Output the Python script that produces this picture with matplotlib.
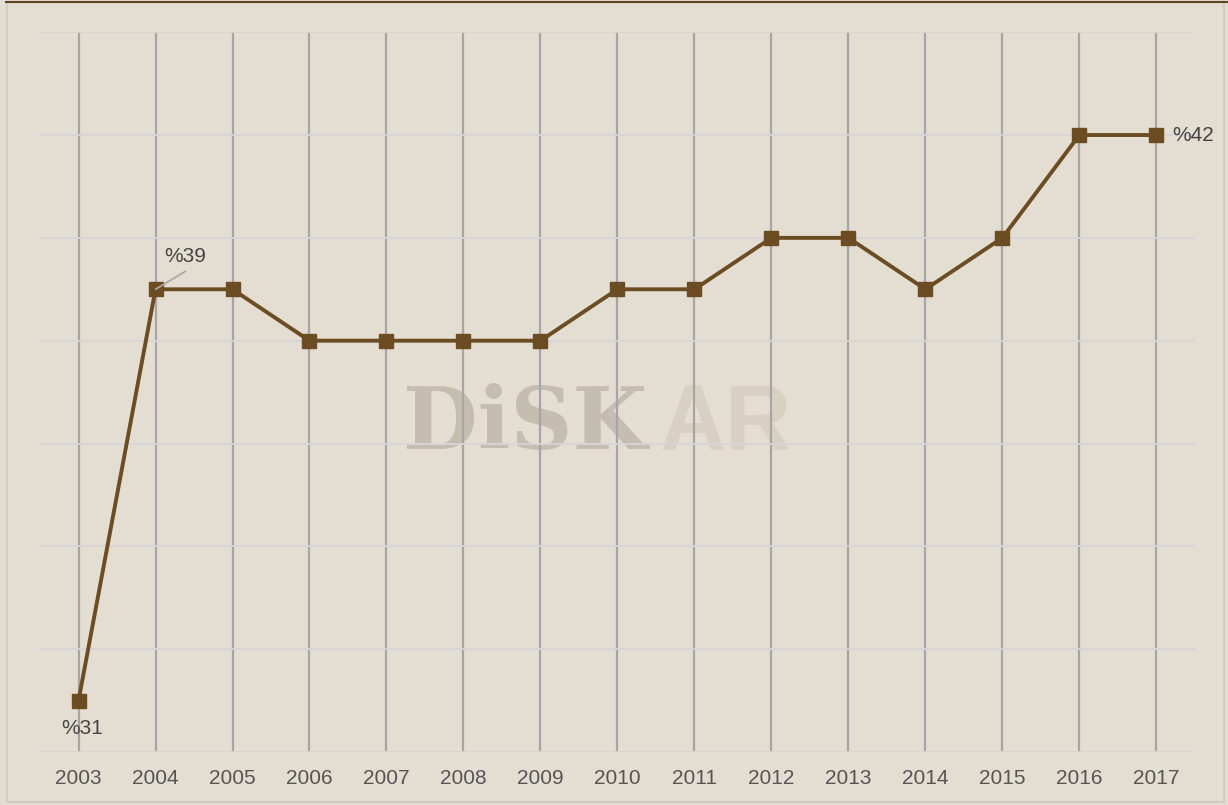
import matplotlib.pyplot as plt
from matplotlib.patches import Rectangle
from matplotlib.lines import Line2D

plt.rcParams['font.family'] = ['Liberation Sans', 'DejaVu Sans']

years = ['2003', '2004', '2005', '2006', '2007', '2008', '2009', '2010',
         '2011', '2012', '2013', '2014', '2015', '2016', '2017']
values = [31, 39, 39, 38, 38, 38, 38, 39, 39, 40, 40, 39, 40, 42, 42]

bg = '#e4ddd2'
line_col = '#6b4c23'
px = 0.72  # points per pixel at dpi 100

fig = plt.figure(figsize=(12.28, 8.05), dpi=100, facecolor=bg)

# frame and top rule
fig.add_artist(Rectangle((0.006, 0.004), 0.991, 0.994, transform=fig.transFigure,
                         fill=False, edgecolor='#d0ccc6', linewidth=1.5))
fig.add_artist(Line2D([0.005, 1.0], [0.998, 0.998], transform=fig.transFigure,
                      color='#5e4320', linewidth=1.5))

ax = fig.add_axes([0.0326, 0.0658, 0.9404, 0.8942])
ax.set_facecolor(bg)
x = list(range(len(years)))
ax.set_xlim(-0.5, len(years) - 0.5)
ax.set_ylim(30, 44)

for s in ax.spines.values():
    s.set_visible(False)

ax.set_yticks(range(30, 45, 2))
ax.set_yticklabels([])
ax.tick_params(axis='y', length=0)
ax.grid(axis='y', color='#d6d6d6', linewidth=1.3)
for xi in x:
    ax.axvline(xi, color='#a6a6a6', linewidth=1.6, zorder=1)

ax.set_xticks(x)
ax.set_xticklabels(years, fontsize=15, color='#555555')
ax.tick_params(axis='x', length=0, pad=12)

# watermark
ax.text(0.314, 0.454, 'DiSK', transform=ax.transAxes, fontsize=62, fontweight='bold',
        family='DejaVu Serif', color='#c4bdb0', ha='left', va='center', zorder=0)
ax.text(0.537, 0.454, 'AR', transform=ax.transAxes, fontsize=66, fontweight='bold',
        family='Liberation Sans', color='#d8d0c2', ha='left', va='center', zorder=0)

ax.plot(x, values, color=line_col, linewidth=2.8, marker='s', markersize=10,
        zorder=3)

ax.annotate('', xy=(1, 39), xytext=(30 * px, 18 * px), textcoords='offset points',
            arrowprops=dict(arrowstyle='-', color='#aaaaaa', linewidth=1.3,
                            shrinkA=0, shrinkB=0))
ax.annotate('%39', xy=(1, 39), xytext=(30 * px, 33 * px), textcoords='offset points',
            fontsize=15, color='#444444', ha='center', va='center')
ax.annotate('%31', xy=(0, 31), xytext=(4 * px, -28 * px), textcoords='offset points',
            fontsize=15, color='#444444', ha='center', va='center')
ax.annotate('%42', xy=(14, 42), xytext=(16 * px, 0), textcoords='offset points',
            fontsize=15, color='#444444', ha='left', va='center')

fig.savefig('out.png', dpi=100, facecolor=bg)
